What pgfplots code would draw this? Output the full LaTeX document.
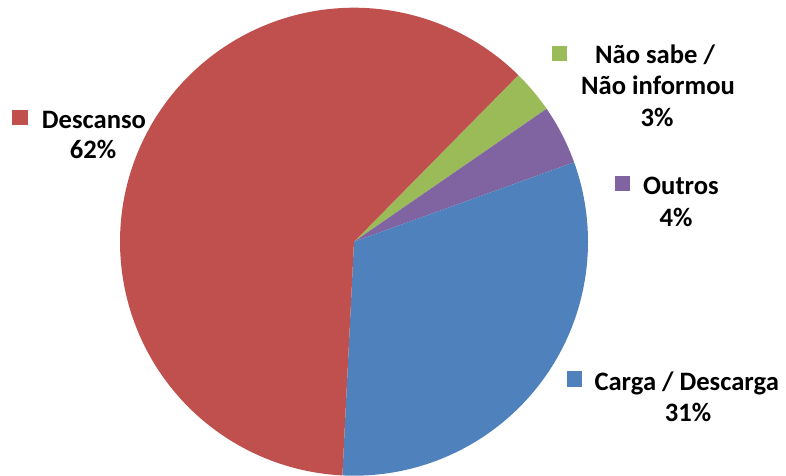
\documentclass[border=0pt]{standalone}
\usepackage{pgfplots}
\pgfplotsset{compat=1.18}
\usepackage{fontspec}
\setmainfont{Carlito}

\definecolor{cDesc}{HTML}{C0504D}
\definecolor{cNao}{HTML}{9BBB59}
\definecolor{cOut}{HTML}{8064A2}
\definecolor{cCarga}{HTML}{4F81BD}

% shares in percent, clockwise from the start angle
\def\pNao{3.0}
\def\pOut{4.1}
\def\pCarga{31.3}
\def\pDesc{61.6}
\pgfmathsetmacro{\aA}{45.4}
\pgfmathsetmacro{\aB}{\aA-3.6*\pNao}
\pgfmathsetmacro{\aC}{\aB-3.6*\pOut}
\pgfmathsetmacro{\aD}{\aC-3.6*\pCarga}
\pgfmathsetmacro{\aE}{\aD-3.6*\pDesc}
\def\cx{354}
\def\cy{233.3}
\def\r{234}

\begin{document}
\begin{tikzpicture}[lbl/.style={font=\fontsize{13.3}{15}\selectfont\bfseries, anchor=base, inner sep=0pt}]
\begin{axis}[
hide axis,
scale only axis,
width=393pt, height=237.5pt,
xmin=0, xmax=786, ymin=0, ymax=475,
clip=false,
]
\addplot[draw=none] coordinates {(0,0) (786,475)};

% slices
\addplot[fill=cNao, draw=none, domain=\aB:\aA, samples=30, variable=\t]
  ({\cx+\r*cos(\t)},{\cy+\r*sin(\t)}) -- (axis cs:\cx,\cy) -- cycle;
\addplot[fill=cOut, draw=none, domain=\aC:\aB, samples=30, variable=\t]
  ({\cx+\r*cos(\t)},{\cy+\r*sin(\t)}) -- (axis cs:\cx,\cy) -- cycle;
\addplot[fill=cCarga, draw=none, domain=\aD:\aC, samples=120, variable=\t]
  ({\cx+\r*cos(\t)},{\cy+\r*sin(\t)}) -- (axis cs:\cx,\cy) -- cycle;
\addplot[fill=cDesc, draw=none, domain=\aE:\aD, samples=200, variable=\t]
  ({\cx+\r*cos(\t)},{\cy+\r*sin(\t)}) -- (axis cs:\cx,\cy) -- cycle;

% label keys
\addplot[only marks, mark=square*, mark size=3.6pt, color=cDesc] coordinates {(20,357.5)};
\addplot[only marks, mark=square*, mark size=3.6pt, color=cNao] coordinates {(559.5,421.3)};
\addplot[only marks, mark=square*, mark size=3.6pt, color=cOut] coordinates {(622.5,291.3)};
\addplot[only marks, mark=square*, mark size=3.6pt, color=cCarga] coordinates {(574.5,96.2)};

% labels
\node[lbl] at (axis cs:94,346.7) {Descanso};
\node[lbl] at (axis cs:93,316.7) {62\%};
\node[lbl] at (axis cs:655,411.7) {Não sabe /};
\node[lbl] at (axis cs:658,380) {Não informou};
\node[lbl] at (axis cs:657,348.3) {3\%};
\node[lbl] at (axis cs:681,280) {Outros};
\node[lbl] at (axis cs:676,248.5) {4\%};
\node[lbl] at (axis cs:686.7,85) {Carga / Descarga};
\node[lbl] at (axis cs:688,53.3) {31\%};
\end{axis}
\end{tikzpicture}
\end{document}
